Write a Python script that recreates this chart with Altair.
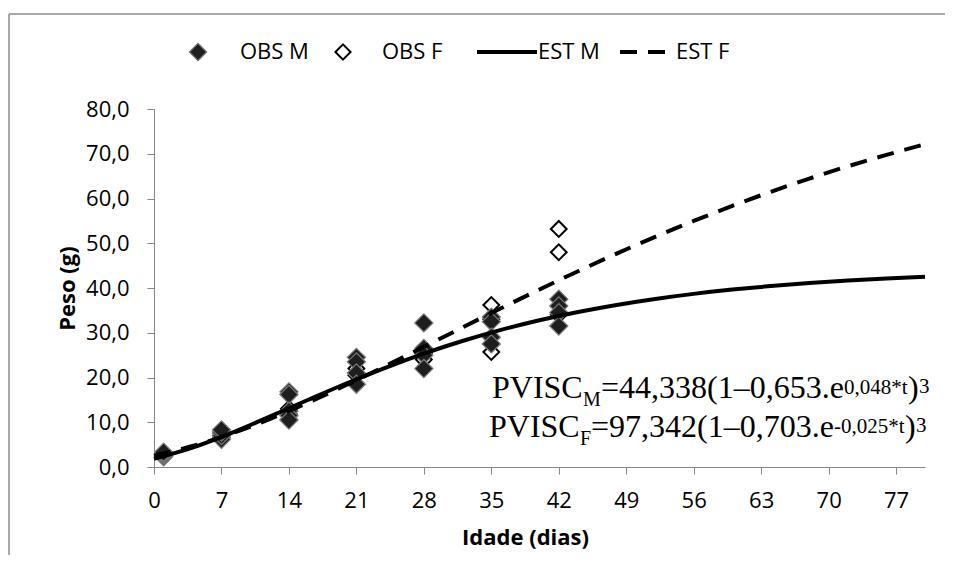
import altair as alt
import pandas as pd

# ---------------- data ----------------
obs_m_day = [1, 1, 1, 1, 7, 7, 7, 7, 14, 14, 14, 14, 14, 21, 21, 21, 21,
             28, 28, 28, 28, 35, 35, 35, 35, 42, 42, 42, 42]
obs_m_val = [2.3, 2.7, 3.0, 3.3, 6.2, 7.0, 7.8, 8.3, 16.8, 16.2, 12.5, 11.5, 10.5,
             24.5, 23.5, 21.0, 18.5, 32.2, 26.5, 25.0, 22.0, 33.5, 32.5, 29.0, 27.5,
             37.5, 36.0, 34.5, 31.5]
obs_f_day = [1, 1, 7, 7, 14, 14, 14, 21, 21, 28, 28, 35, 35, 35, 42, 42, 42]
obs_f_val = [2.5, 2.9, 6.6, 7.4, 13.0, 11.8, 10.6, 22.0, 20.5, 25.5, 24.0,
             36.2, 33.0, 25.7, 53.2, 48.0, 34.0]

est_day = [0, 4, 8, 12, 16, 20, 24, 28, 32, 36, 40, 44, 48, 52, 56, 60, 64, 68, 72, 76, 80]
est_m_val = [1.85, 4.35, 7.59, 11.24, 15.02, 18.71, 22.17, 25.33, 28.15, 30.63, 32.79,
             34.64, 36.22, 37.56, 38.69, 39.64, 40.44, 41.10, 41.65, 42.12, 42.50]
est_f_val = [2.55, 4.69, 7.44, 10.71, 14.39, 18.37, 22.55, 26.85, 31.17, 35.46, 39.67,
             43.75, 47.69, 51.43, 54.98, 58.34, 61.50, 64.45, 67.20, 69.74, 72.13]

x_ticks = [0, 7, 14, 21, 28, 35, 42, 49, 56, 63, 70, 77]
y_ticks = [0, 10, 20, 30, 40, 50, 60, 70, 80]
legend_labels = ["OBS M", "OBS F", "EST M", "EST F"]
eq1_parts = ["PVISC", "M", "=44,338(1\u20130,653.e", "0,048*t", ")", "3"]
eq2_parts = ["PVISC", "F", "=97,342(1\u20130,703.e", "-0,025*t", ")", "3"]

# ---------------- tables ----------------
df_m = pd.DataFrame({"dia": obs_m_day, "peso": obs_m_val})
df_f = pd.DataFrame({"dia": obs_f_day, "peso": obs_f_val})
df_em = pd.DataFrame({"dia": est_day, "peso": est_m_val})
df_ef = pd.DataFrame({"dia": est_day, "peso": est_f_val})
one = pd.DataFrame({"k": [0]})

GREY = "#868686"
SANS = "Open Sans"
SERIF = "Liberation Serif"

X = alt.X("dia:Q",
          scale=alt.Scale(domain=[0, 80], nice=False, zero=False),
          axis=alt.Axis(values=x_ticks, title="Idade (dias)", grid=False,
                        labelFont=SANS, labelFontSize=22, labelColor="black",
                        titleFont=SANS, titleFontSize=22, titleFontWeight="bold",
                        titleColor="black", titleX=371, titleY=70, titleBaseline="middle",
                        tickColor=GREY, domainColor=GREY, tickSize=7, labelPadding=16,
                        labelFlush=False, labelOverlap=False))
Y = alt.Y("peso:Q",
          scale=alt.Scale(domain=[0, 80], nice=False, zero=True),
          axis=alt.Axis(values=y_ticks, title="Peso (g)", grid=False,
                        labelExpr="replace(format(datum.value, '.1f'), '.', ',')",
                        labelFont=SANS, labelFontSize=22, labelColor="black",
                        titleFont=SANS, titleFontSize=22, titleFontWeight="bold",
                        titleColor="black", titleX=-87, titleY=179, titleBaseline="middle",
                        tickColor=GREY, domainColor=GREY, tickSize=7, labelPadding=18,
                        labelOverlap=False))

pts_f = alt.Chart(df_f).mark_point(shape="diamond", size=250, filled=True, fill="white",
                                    stroke="black", strokeWidth=2, opacity=1).encode(x=X, y=Y)
pts_m = alt.Chart(df_m).mark_point(shape="diamond", size=330, filled=True, fill="#1e1e1e",
                                    stroke="#7a7a7a", strokeWidth=1.2, opacity=1).encode(x=X, y=Y)
line_m = alt.Chart(df_em).mark_line(color="black", strokeWidth=4,
                                     interpolate="monotone").encode(x=X, y=Y)
line_f = alt.Chart(df_ef).mark_line(color="black", strokeWidth=4, strokeDash=[17, 11],
                                     interpolate="monotone").encode(x=X, y=Y)

layers = [pts_f, pts_m, line_m, line_f]

# outer frame (top and left edges of the chart area border)
layers.append(alt.Chart(one).mark_rule(color="#8c8c8c", strokeWidth=1.5).encode(
    x=alt.value(-145), x2=alt.value(791), y=alt.value(-95)))
layers.append(alt.Chart(one).mark_rule(color="#8c8c8c", strokeWidth=1.5).encode(
    x=alt.value(-145), y=alt.value(-95), y2=alt.value(446)))

# legend (top)
LY = -57
layers.append(alt.Chart(one).mark_point(shape="diamond", size=300, filled=True, fill="#1e1e1e",
                                         stroke="#7a7a7a", strokeWidth=1.2, opacity=1)
              .encode(x=alt.value(44), y=alt.value(LY)))
layers.append(alt.Chart(one).mark_point(shape="diamond", size=230, filled=True, fill="white",
                                         stroke="black", strokeWidth=2, opacity=1)
              .encode(x=alt.value(189), y=alt.value(LY)))
layers.append(alt.Chart(one).mark_rule(color="black", strokeWidth=4)
              .encode(x=alt.value(323), x2=alt.value(383), y=alt.value(LY)))
layers.append(alt.Chart(one).mark_rule(color="black", strokeWidth=4, strokeDash=[17, 11])
              .encode(x=alt.value(466), x2=alt.value(511), y=alt.value(LY)))
for lab, lx in zip(legend_labels, [86, 228, 384, 522]):
    layers.append(alt.Chart(one).mark_text(align="left", baseline="middle", font=SANS,
                                            fontSize=22, color="black")
                  .encode(x=alt.value(lx), y=alt.value(LY), text=alt.value(lab)))

# equations (with sub/superscripts)
eq_layout = [
    (eq1_parts, [338, 429, 447, 690, 754, 765], [289, 297, 289, 285, 289, 284]),
    (eq2_parts, [335, 426, 437, 680, 751, 762], [328, 336, 328, 324, 328, 323]),
]
sizes = [32, 20, 32, 21, 32, 21]
for parts, xs, ys in eq_layout:
    for txt, ex, ey, fs in zip(parts, xs, ys, sizes):
        layers.append(alt.Chart(one).mark_text(align="left", baseline="alphabetic",
                                                font=SERIF, fontSize=fs, color="black")
                      .encode(x=alt.value(ex), y=alt.value(ey), text=alt.value(txt)))

chart = alt.layer(*layers).properties(
    width=771, height=358,
    padding={"left": 146, "top": 101, "right": 20, "bottom": 88},
    autosize=alt.AutoSizeParams(type="none"),
).configure_view(stroke=None)

chart.save("out.html", embed_options={"renderer": "svg", "actions": False})
